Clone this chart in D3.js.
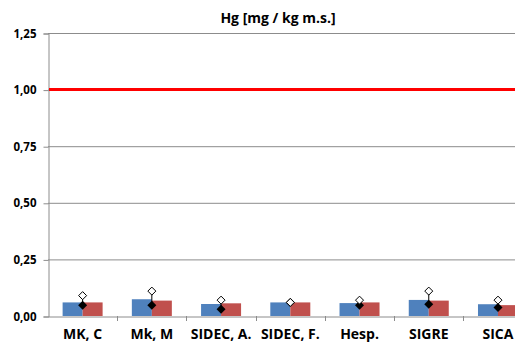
<!DOCTYPE html>
<html>
<head>
<meta charset="utf-8">
<script src="https://cdn.jsdelivr.net/npm/d3@7"></script>
<style>
body { margin: 0; background: #fff; }
svg text { font-family: "Open Sans", sans-serif; font-weight: 700; }
</style>
</head>
<body>
<script>
var categories = ["MK, C", "Mk, M", "SIDEC, A.", "SIDEC, F.", "Hesp.", "SIGRE", "SICA"];
var blueValues = [0.060, 0.074, 0.053, 0.060, 0.057, 0.071, 0.052];
var redValues = [0.060, 0.068, 0.056, 0.060, 0.060, 0.068, 0.048];
var maxValues = [0.090, 0.110, 0.070, 0.060, 0.070, 0.110, 0.070];
var minValues = [0.048, 0.048, 0.030, 0.060, 0.048, 0.052, 0.038];
var limitValue = 1.0;
var yTicks = [0, 0.25, 0.5, 0.75, 1.0, 1.25];

var width = 515, height = 344;
var margin = {top: 33, left: 48, bottom: 28};
var plotRight = 532.6;

var svg = d3.select("body").append("svg")
  .attr("width", width)
  .attr("height", height);

var x = d3.scaleBand()
  .domain(categories)
  .range([margin.left, plotRight])
  .paddingInner(0)
  .paddingOuter(0);

var y = d3.scaleLinear()
  .domain([0, 1.25])
  .range([height - margin.bottom, margin.top]);

var fmt = function(d) { return d3.format(".2f")(d).replace(".", ","); };

// gridlines
svg.append("g")
  .selectAll("line")
  .data(yTicks.slice(1))
  .enter().append("line")
  .attr("x1", margin.left)
  .attr("x2", width)
  .attr("y1", function(d) { return y(d) + 0.5; })
  .attr("y2", function(d) { return y(d) + 0.5; })
  .attr("stroke", "#8c8c8c")
  .attr("stroke-width", 1);

// y axis
var yAxis = d3.axisLeft(y)
  .tickValues(yTicks)
  .tickFormat(fmt)
  .tickSize(5)
  .tickPadding(7);

var gy = svg.append("g")
  .attr("transform", "translate(" + (margin.left + 0.5) + ",0.5)")
  .call(yAxis);
gy.select(".domain").attr("stroke", "#8c8c8c");
gy.selectAll(".tick line").attr("stroke", "#8c8c8c");
gy.selectAll(".tick text")
  .attr("font-size", "11.5px")
  .attr("fill", "#000");

// bars
var barW = 20;
var groups = svg.append("g")
  .selectAll("g")
  .data(categories)
  .enter().append("g");

groups.append("rect")
  .attr("x", function(d) { return x(d) + x.bandwidth() / 2 - barW; })
  .attr("y", function(d, i) { return y(blueValues[i]); })
  .attr("width", barW)
  .attr("height", function(d, i) { return y(0) - y(blueValues[i]); })
  .attr("fill", "#4f81bd");

groups.append("rect")
  .attr("x", function(d) { return x(d) + x.bandwidth() / 2; })
  .attr("y", function(d, i) { return y(redValues[i]); })
  .attr("width", barW)
  .attr("height", function(d, i) { return y(0) - y(redValues[i]); })
  .attr("fill", "#c0504d");

// x axis
var xAxis = d3.axisBottom(x)
  .tickSize(0)
  .tickPadding(13);

var gx = svg.append("g")
  .attr("transform", "translate(0," + (y(0) + 0.5) + ")")
  .call(xAxis);
gx.select(".domain").attr("stroke", "#8c8c8c");
gx.selectAll(".tick text")
  .attr("font-size", "14px")
  .attr("fill", "#000");

// category separators
svg.append("g")
  .selectAll("line")
  .data(categories)
  .enter().append("line")
  .attr("x1", function(d) { return Math.round(x(d) + x.bandwidth()) + 0.5; })
  .attr("x2", function(d) { return Math.round(x(d) + x.bandwidth()) + 0.5; })
  .attr("y1", y(0))
  .attr("y2", y(0) + 5)
  .attr("stroke", "#8c8c8c");

// limit line
svg.append("line")
  .attr("x1", margin.left + 1)
  .attr("x2", width)
  .attr("y1", y(limitValue))
  .attr("y2", y(limitValue))
  .attr("stroke", "#ff0000")
  .attr("stroke-width", 3);

// hi-lo lines
groups.append("line")
  .attr("x1", function(d) { return x(d) + x.bandwidth() / 2; })
  .attr("x2", function(d) { return x(d) + x.bandwidth() / 2; })
  .attr("y1", function(d, i) { return y(maxValues[i]); })
  .attr("y2", function(d, i) { return y(minValues[i]); })
  .attr("stroke", "#000")
  .attr("stroke-width", 1);

var diamond = function(cx, cy, r) {
  return "M" + cx + "," + (cy - r) + "L" + (cx + r) + "," + cy +
    "L" + cx + "," + (cy + r) + "L" + (cx - r) + "," + cy + "Z";
};

groups.append("path")
  .attr("d", function(d, i) { return diamond(x(d) + x.bandwidth() / 2, y(minValues[i]), 4.5); })
  .attr("fill", "#000");

groups.append("path")
  .attr("d", function(d, i) { return diamond(x(d) + x.bandwidth() / 2, y(maxValues[i]), 4); })
  .attr("fill", "#fff")
  .attr("stroke", "#000")
  .attr("stroke-width", 1);

// title
svg.append("text")
  .attr("x", 278)
  .attr("y", 23)
  .attr("text-anchor", "middle")
  .attr("font-size", "14px")
  .text("Hg [mg / kg m.s.]");
</script>
</body>
</html>
